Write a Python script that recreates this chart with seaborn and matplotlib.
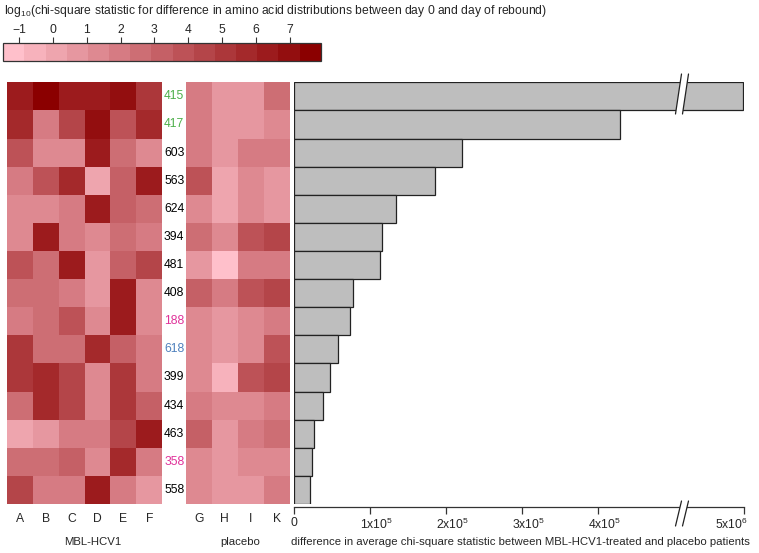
import numpy as np
import pandas as pd
import matplotlib
matplotlib.use("Agg")
import matplotlib.pyplot as plt
import matplotlib.transforms as mtransforms
import seaborn as sns
from matplotlib.colors import LinearSegmentedColormap
from matplotlib.patches import Polygon
from matplotlib.lines import Line2D

# ---------------- data ----------------
positions = ["415", "417", "603", "563", "624", "394", "481", "408",
             "188", "618", "399", "434", "463", "358", "558"]
label_colors = ["#4DAF4A", "#4DAF4A", "black", "black", "black", "black", "black", "black",
                "#E0339A", "#4F81BD", "black", "black", "black", "#E0339A", "black"]
mbl_patients = ["A", "B", "C", "D", "E", "F"]
placebo_patients = ["G", "H", "I", "K"]

# log10 chi-square statistic, MBL-HCV1 patients (rows = positions)
mbl_values = [
    [6.4, 7.92, 6.3, 6.4, 7.0, 5.1],
    [5.7, 2.0, 4.5, 7.0, 3.9, 5.8],
    [3.9, 1.4, 1.3, 6.3, 2.6, 1.4],
    [2.0, 3.9, 5.7, 0.1, 3.2, 6.4],
    [1.4, 1.3, 2.0, 6.3, 3.2, 2.6],
    [1.3, 6.3, 2.0, 1.4, 2.6, 2.0],
    [3.9, 2.6, 6.4, 0.7, 3.2, 4.5],
    [2.6, 2.6, 2.0, 0.7, 6.4, 1.4],
    [2.0, 2.6, 3.9, 1.4, 6.4, 1.3],
    [5.1, 2.6, 2.6, 5.7, 3.2, 2.0],
    [5.1, 5.7, 4.5, 1.4, 5.1, 2.0],
    [2.6, 5.7, 4.5, 1.4, 5.1, 3.2],
    [0.1, 0.7, 2.0, 2.0, 4.5, 6.3],
    [2.6, 2.6, 3.2, 1.4, 5.7, 2.0],
    [4.5, 2.0, 2.0, 6.3, 2.0, 0.7],
]
# log10 chi-square statistic, placebo patients
placebo_values = [
    [2.0, 0.7, 0.7, 2.6],
    [2.0, 0.7, 0.7, 1.4],
    [2.0, 0.7, 2.0, 2.0],
    [3.9, 0.1, 1.4, 0.7],
    [1.4, 0.1, 1.4, 0.7],
    [2.6, 1.4, 3.9, 4.5],
    [0.7, -1.47, 2.0, 2.0],
    [3.2, 2.0, 3.9, 4.5],
    [1.4, 0.7, 1.4, 2.0],
    [1.4, 0.7, 1.4, 3.9],
    [1.4, -0.5, 3.9, 4.5],
    [2.0, 1.4, 1.4, 2.0],
    [3.2, 0.7, 2.0, 2.6],
    [1.4, 0.7, 1.4, 1.4],
    [1.4, 0.7, 0.7, 2.0],
]
# difference in average chi-square statistic
bar_values = [4.99e6, 4.29e5, 2.21e5, 1.86e5, 1.34e5, 1.16e5, 1.14e5, 7.8e4,
              7.4e4, 5.8e4, 4.8e4, 3.8e4, 2.7e4, 2.4e4, 2.1e4]
cbar_ticks = [-1, 0, 1, 2, 3, 4, 5, 6, 7]
bar_ticks = [0, 1e5, 2e5, 3e5, 4e5, 5e6]
bar_ticklabels = ["0", "1x10$^5$", "2x10$^5$", "3x10$^5$", "4x10$^5$", "5x10$^6$"]

# ---------------- style ----------------
sns.set_style("white")
plt.rcParams["font.family"] = ["Liberation Sans", "DejaVu Sans"]
plt.rcParams["mathtext.fontset"] = "custom"
plt.rcParams["mathtext.rm"] = "Liberation Sans"
plt.rcParams["mathtext.it"] = "Liberation Sans:italic"
plt.rcParams["mathtext.bf"] = "Liberation Sans:bold"
plt.rcParams["mathtext.default"] = "regular"
FS = 8.7
FS_LAB = 8.2

W, H = 759, 553
fig = plt.figure(figsize=(W / 100, H / 100), dpi=100)


def rect(x0, y0, x1, y1):
    return [x0 / W, 1 - y1 / H, (x1 - x0) / W, (y1 - y0) / H]


ax1 = fig.add_axes(rect(6.7, 82.3, 162.3, 504))
ax2 = fig.add_axes(rect(185.7, 82.3, 290, 504))
ax3 = fig.add_axes(rect(293.7, 82.3, 744.3, 504))
cax = fig.add_axes(rect(3.3, 43.3, 320.7, 61))

vmin, vmax = -1.47, 7.92
cmap = LinearSegmentedColormap.from_list("pinkred", ["#FFC0CB", "#8B0000"], N=15)

df1 = pd.DataFrame(mbl_values, index=positions, columns=mbl_patients)
df2 = pd.DataFrame(placebo_values, index=positions, columns=placebo_patients)

sns.heatmap(df1, ax=ax1, cmap=cmap, vmin=vmin, vmax=vmax, yticklabels=False,
            cbar=True, cbar_ax=cax,
            cbar_kws={"orientation": "horizontal", "ticks": cbar_ticks})
sns.heatmap(df2, ax=ax2, cmap=cmap, vmin=vmin, vmax=vmax, cbar=False,
            yticklabels=positions)

for ax in (ax1, ax2):
    ax.tick_params(axis="x", length=0, pad=6.5, labelsize=FS, rotation=0)
ax2.tick_params(axis="y", length=0, pad=1, labelsize=FS, rotation=0)
for lab, col in zip(ax2.get_yticklabels(), label_colors):
    lab.set_color(col)
ax1.set_ylabel("")
ax2.set_ylabel("")
ax1.set_xlabel("MBL-HCV1", fontsize=FS_LAB)
ax2.set_xlabel("placebo", fontsize=FS_LAB)
ax1.xaxis.set_label_coords(0.551, -0.079)
ax2.xaxis.set_label_coords(0.523, -0.079)

# colorbar
cb = ax1.collections[0].colorbar
cb.outline.set_edgecolor("#333333")
cb.outline.set_linewidth(0.9)
cax.xaxis.set_ticks_position("top")
cax.tick_params(axis="x", length=4, width=0.8, pad=1.5, labelsize=FS, color="#333333")
fig.text(4 / W, 1 - 11 / H,
         "log$_{10}$(chi-square statistic for difference in amino acid distributions "
         "between day 0 and day of rebound)", fontsize=FS, va="center", ha="left")

# bar chart with broken axis
bdf = pd.DataFrame({"position": positions, "diff": bar_values})
sns.barplot(data=bdf, x="diff", y="position", orient="h", ax=ax3, color="#BEBEBE",
            saturation=1, edgecolor="#222222", linewidth=0.9, width=1.0)

L, R = 5.05e5, 4.6e6
G = 4 / 76 * 1e5
K = (62.8 / 76 * 1e5) / 4e5


def fwd(x):
    x = np.asarray(x, dtype=float)
    mid = L + (x - L) / (R - L) * G
    hi = L + G + (x - R) * K
    return np.where(x <= L, x, np.where(x < R, mid, hi))


def inv(y):
    y = np.asarray(y, dtype=float)
    mid = L + (y - L) / G * (R - L)
    hi = R + (y - L - G) / K
    return np.where(y <= L, y, np.where(y < L + G, mid, hi))


ax3.set_xscale("function", functions=(fwd, inv))
ax3.set_xlim(0, 5e6)
ax3.set_ylim(14.5, -0.5)
ax3.set_xticks(bar_ticks)
ax3.set_xticklabels(bar_ticklabels)
ax3.xaxis.set_minor_locator(matplotlib.ticker.NullLocator())
ax3.set_yticks([])
ax3.set_ylabel("")
for s in ("left", "top", "right"):
    ax3.spines[s].set_visible(False)
ax3.spines["bottom"].set_position(("outward", 2.2))
ax3.spines["bottom"].set_bounds(0, 5e6)
ax3.spines["bottom"].set_color("#333333")
ax3.spines["bottom"].set_linewidth(0.9)
ax3.tick_params(axis="x", direction="out", length=5, width=0.9, pad=2,
                labelsize=FS, color="#333333", bottom=True)
# label placement as in the reference (shifted slightly right of the ticks)
tlabels = ax3.get_xticklabels()
for i, lab in enumerate(tlabels):
    if i == 0:
        continue
    if i == len(tlabels) - 1:
        lab.set_ha("right")
        dx = 3
    else:
        dx = 7
    lab.set_transform(lab.get_transform() +
                      mtransforms.ScaledTranslation(dx / 100, 0, fig.dpi_scale_trans))
ax3.set_xlabel("difference in average chi-square statistic between "
               "MBL-HCV1-treated and placebo patients", fontsize=FS_LAB)
ax3.xaxis.set_label_coords(0.503, -0.079)


# break marks (decoration)
def fig_xy(px, py):
    return (px / W, 1 - py / H)


for (yb, yt) in ((114, 74), (526, 501)):
    poly = Polygon([fig_xy(675.5, yb), fig_xy(681.5, yt), fig_xy(688.5, yt), fig_xy(682.5, yb)],
                   closed=True, transform=fig.transFigure, facecolor="white",
                   edgecolor="none", zorder=10)
    fig.add_artist(poly)
    for dx in (0, 7):
        x0, y0 = fig_xy(675.5 + dx, yb)
        x1, y1 = fig_xy(681.5 + dx, yt)
        fig.add_artist(Line2D([x0, x1], [y0, y1], transform=fig.transFigure,
                              color="#222222", lw=0.9, zorder=11))

fig.savefig("out.png", dpi=100)
